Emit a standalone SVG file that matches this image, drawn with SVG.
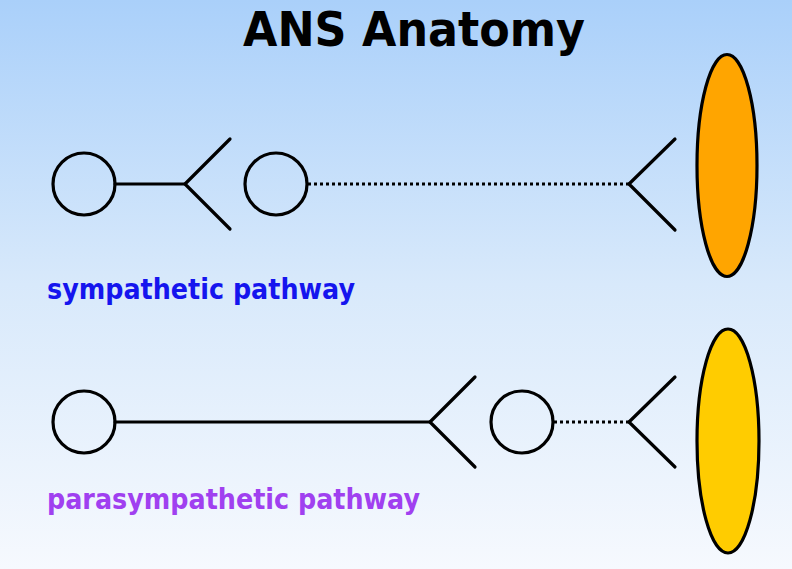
<svg xmlns="http://www.w3.org/2000/svg" width="792" height="569" viewBox="0 0 792 569">
<defs>
<linearGradient id="bg" x1="0" y1="0" x2="0" y2="1">
<stop offset="0" stop-color="#aad0fa"/>
<stop offset="0.5" stop-color="#d8e9fb"/>
<stop offset="1" stop-color="#f6f9fe"/>
</linearGradient>
<style>
.ln{stroke:#000;stroke-width:3.2;fill:none;stroke-linecap:round;stroke-linejoin:round}
.dot{stroke:#000;stroke-width:3.2;fill:none;stroke-dasharray:3 3}
.cell{stroke:#000;stroke-width:3.2;fill:none}
.organ{stroke:#000;stroke-width:3.2}
.t{font-family:"DejaVu Sans","Liberation Sans",sans-serif;font-weight:bold}
</style>
</defs>
<rect width="792" height="569" fill="url(#bg)"/>
<text class="t" x="243" y="46" font-size="48" textLength="342" lengthAdjust="spacingAndGlyphs" fill="#000">ANS Anatomy</text>
<g id="connectors">
<line class="ln" x1="115" y1="184" x2="185" y2="184"/>
<polyline class="ln" points="230,139 185,184 230,229"/>
<line class="dot" x1="308" y1="184" x2="629" y2="184"/>
<polyline class="ln" points="675,139 629,184 675,230"/>
<line class="ln" x1="115" y1="422" x2="430" y2="422"/>
<polyline class="ln" points="475,377 430,422 475,467"/>
<line class="dot" x1="554" y1="422" x2="629" y2="422"/>
<polyline class="ln" points="675,377 629,422 675,467"/>
</g>
<g id="symp-pre"><circle class="cell" cx="84" cy="184" r="31"/></g>
<g id="symp-post"><circle class="cell" cx="276" cy="184" r="31"/></g>
<g id="symp-organ"><ellipse class="organ" cx="727" cy="165.5" rx="30" ry="111" fill="#ffa500"/></g>
<g id="para-pre"><circle class="cell" cx="84" cy="422" r="31"/></g>
<g id="para-post"><circle class="cell" cx="522" cy="422" r="31"/></g>
<g id="para-organ"><ellipse class="organ" cx="728" cy="441" rx="31" ry="112" fill="#ffcc00"/></g>
<g id="labels">
<text class="t" x="47" y="299" font-size="28" textLength="308" lengthAdjust="spacingAndGlyphs" fill="#1515ee">sympathetic pathway</text>
<text class="t" x="47" y="509" font-size="28" textLength="373" lengthAdjust="spacingAndGlyphs" fill="#a040f0">parasympathetic pathway</text>
</g>
</svg>
